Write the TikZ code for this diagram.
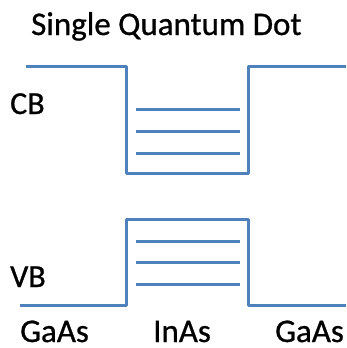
\documentclass[tikz,border=0pt]{standalone}
\usepackage{fontspec}
\setmainfont[FakeBold=0.8]{Carlito}
\definecolor{bandblue}{RGB}{79,129,189}
\begin{document}
\begin{tikzpicture}[x=1pt,y=-1pt,
  band/.style={draw=bandblue,line width=3pt,line join=round},
  level/.style={draw=bandblue,line width=3pt},
  lbl/.style={font=\fontsize{33}{33}\selectfont,inner sep=0pt,anchor=base west},
  slbl/.style={font=\fontsize{32}{32}\selectfont,inner sep=0pt,anchor=base west}]
\useasboundingbox (0,0) rectangle (346,348);
% conduction band
\draw[band] (26,66) -- (126,66) -- (126,173) -- (248,173) -- (248,66) -- (346,66);
\draw[level] (136,109) -- (240,109);
\draw[level] (136,131) -- (240,131);
\draw[level] (136,153) -- (240,153);
% valence band
\draw[band] (20,305) -- (126,305) -- (126,219) -- (248,219) -- (248,305) -- (346,305);
\draw[level] (136,241) -- (240,241);
\draw[level] (136,262) -- (240,262);
\draw[level] (136,284) -- (240,284);
% labels
\node[lbl] (title) at (31,35) {Single Quantum Dot};
\node[slbl] (cb) at (10,114) {CB};
\node[slbl] (vb) at (10,287) {VB};
\node[lbl] (g1) at (20,342) {GaAs};
\node[lbl] (in) at (153,342) {InAs};
\node[lbl] (g2) at (275,342) {GaAs};
\end{tikzpicture}
\end{document}
